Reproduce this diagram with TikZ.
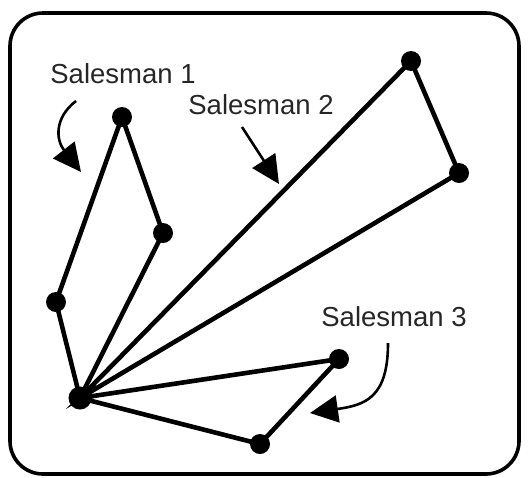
\documentclass[tikz,border=0pt]{standalone}
\usepackage{fontspec}
\setmainfont{Liberation Sans}
\usetikzlibrary{arrows.meta}
\begin{document}
\begin{tikzpicture}[x=1pt,y=-1pt,
  city/.style={circle,fill=black,inner sep=0pt,minimum size=20pt},
  depot/.style={circle,fill=black,inner sep=0pt,minimum size=23pt},
  route/.style={line width=4.6pt},
  tag/.style={font=\fontsize{27.5}{30}\selectfont,text=black!85},
  pointer/.style={line width=2.6pt,-{Triangle[length=28pt,width=27pt]}}]
\useasboundingbox (0,0) rectangle (529,477);
% frame
\draw[line width=3.6pt,rounded corners=33pt] (10,13) rectangle (519,474);
% cities
\node[depot] (d) at (80,398) {};
\node[city] (a1) at (56,302) {};
\node[city] (a2) at (122,117) {};
\node[city] (a3) at (163,233) {};
\node[city] (b1) at (411,61) {};
\node[city] (b2) at (459,173) {};
\node[city] (c1) at (339,359) {};
\node[city] (c2) at (260,444) {};
% tours
\draw[route] (d.center) -- (a1.center) -- (a2.center) -- (a3.center) -- cycle;
\draw[route] (d.center) -- (b1.center) -- (b2.center) -- cycle;
\draw[route] (d.center) -- (c1.center) -- (c2.center) -- cycle;
% labels
\node[tag] (l1) at (123,74) {Salesman 1};
\node[tag] (l2) at (261,105) {Salesman 2};
\node[tag] (l3) at (394,317) {Salesman 3};
% pointers
\coordinate (p1s) at (76,101);
\coordinate (p1e) at (81,172);
\coordinate (p2s) at (242,127);
\coordinate (p2e) at (279,184);
\coordinate (p3s) at (388,343);
\coordinate (p3e) at (310,413);
\draw[pointer] (p1s) .. controls (54,118) and (56,140) .. (p1e);
\draw[pointer] (p2s) -- (p2e);
\draw[pointer] (p3s) .. controls (388,398) and (365,405) .. (p3e);
\end{tikzpicture}
\end{document}
